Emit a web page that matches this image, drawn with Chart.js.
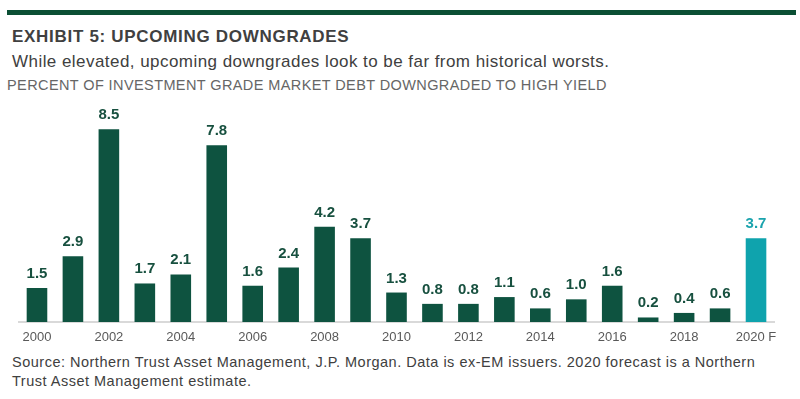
<!DOCTYPE html>
<html>
<head>
<meta charset="utf-8">
<script src="https://cdn.jsdelivr.net/npm/chart.js@4"></script>
<style>
  body { margin: 0; background: #fff; font-family: "Liberation Sans", Arial, sans-serif; }
  #wrap { position: relative; width: 800px; height: 399px; overflow: hidden; }
  #rule { position: absolute; left: 7px; top: 10px; width: 789px; height: 5px; background: #0b4f34; }
  .txt { position: absolute; white-space: nowrap; }
  #title { left: 12px; top: 28px; font-size: 17px; line-height: 17px; font-weight: bold; letter-spacing: 0.7px; color: #404040; }
  #sub { left: 12px; top: 53px; font-size: 17px; line-height: 17px; letter-spacing: 0.45px; color: #404040; }
  #unit { left: 7px; top: 78px; font-size: 14.5px; line-height: 14.5px; letter-spacing: 0.4px; color: #666; }
  #source { left: 12px; top: 353px; font-size: 14.5px; line-height: 19px; letter-spacing: 0.5px; color: #404040; }
  canvas { position: absolute; left: 0; top: 0; }
</style>
</head>
<body>
<div id="wrap">
  <div id="rule"></div>
  <div class="txt" id="title">EXHIBIT 5: UPCOMING DOWNGRADES</div>
  <div class="txt" id="sub">While elevated, upcoming downgrades look to be far from historical worsts.</div>
  <div class="txt" id="unit">PERCENT OF INVESTMENT GRADE MARKET DEBT DOWNGRADED TO HIGH YIELD</div>
  <div class="txt" id="source">Source: Northern Trust Asset Management, J.P. Morgan. Data is ex-EM issuers. 2020 forecast is a Northern<br>Trust Asset Management estimate.</div>
  <canvas id="downgradeChart" width="800" height="399"></canvas>
</div>
<script>
const years = ['2000', '2001', '2002', '2003', '2004', '2005', '2006', '2007', '2008', '2009',
               '2010', '2011', '2012', '2013', '2014', '2015', '2016', '2017', '2018', '2019', '2020 F'];
const downgradePct = [1.5, 2.9, 8.5, 1.7, 2.1, 7.8, 1.6, 2.4, 4.2, 3.7,
                      1.3, 0.8, 0.8, 1.1, 0.6, 1.0, 1.6, 0.2, 0.4, 0.6, 3.7];

const darkGreen = '#0e5340';
const teal = '#0fa3ad';
const barColors = years.map(y => y.endsWith('F') ? teal : darkGreen);
const labelColors = years.map(y => y.endsWith('F') ? '#1aa3ad' : '#17503f');

// value labels above each bar
const valueLabels = {
    id: 'valueLabels',
    afterDatasetsDraw(chart) {
        const ctx = chart.ctx;
        const meta = chart.getDatasetMeta(0);
        ctx.save();
        ctx.font = 'bold 15px "Liberation Sans", Arial, sans-serif';
        ctx.textAlign = 'center';
        ctx.textBaseline = 'alphabetic';
        meta.data.forEach((bar, i) => {
            ctx.fillStyle = labelColors[i];
            ctx.fillText(downgradePct[i].toFixed(1), bar.x, bar.y - 10);
        });
        ctx.restore();
    }
};

new Chart(document.getElementById('downgradeChart').getContext('2d'), {
    type: 'bar',
    data: {
        labels: years,
        datasets: [{
            data: downgradePct,
            backgroundColor: barColors,
            categoryPercentage: 1,
            barPercentage: 0.573
        }]
    },
    options: {
        responsive: false,
        animation: false,
        layout: { padding: { left: 19, right: 26, top: 118, bottom: 0 } },
        plugins: { legend: { display: false }, tooltip: { enabled: false } },
        scales: {
            x: {
                grid: { display: false },
                border: { display: true, color: '#d9d9d9', width: 2 },
                ticks: {
                    autoRotate: false,
                    maxRotation: 0,
                    autoSkip: false,
                    padding: 0,
                    color: '#595959',
                    font: { family: '"Liberation Sans", Arial, sans-serif', size: 13 },
                    callback: function(val, i) { return i % 2 === 0 ? years[i] : ''; }
                },
                afterFit: s => { s.height = 77; }
            },
            y: {
                display: false,
                min: 0,
                max: 9
            }
        }
    },
    plugins: [valueLabels]
});
</script>
</body>
</html>
